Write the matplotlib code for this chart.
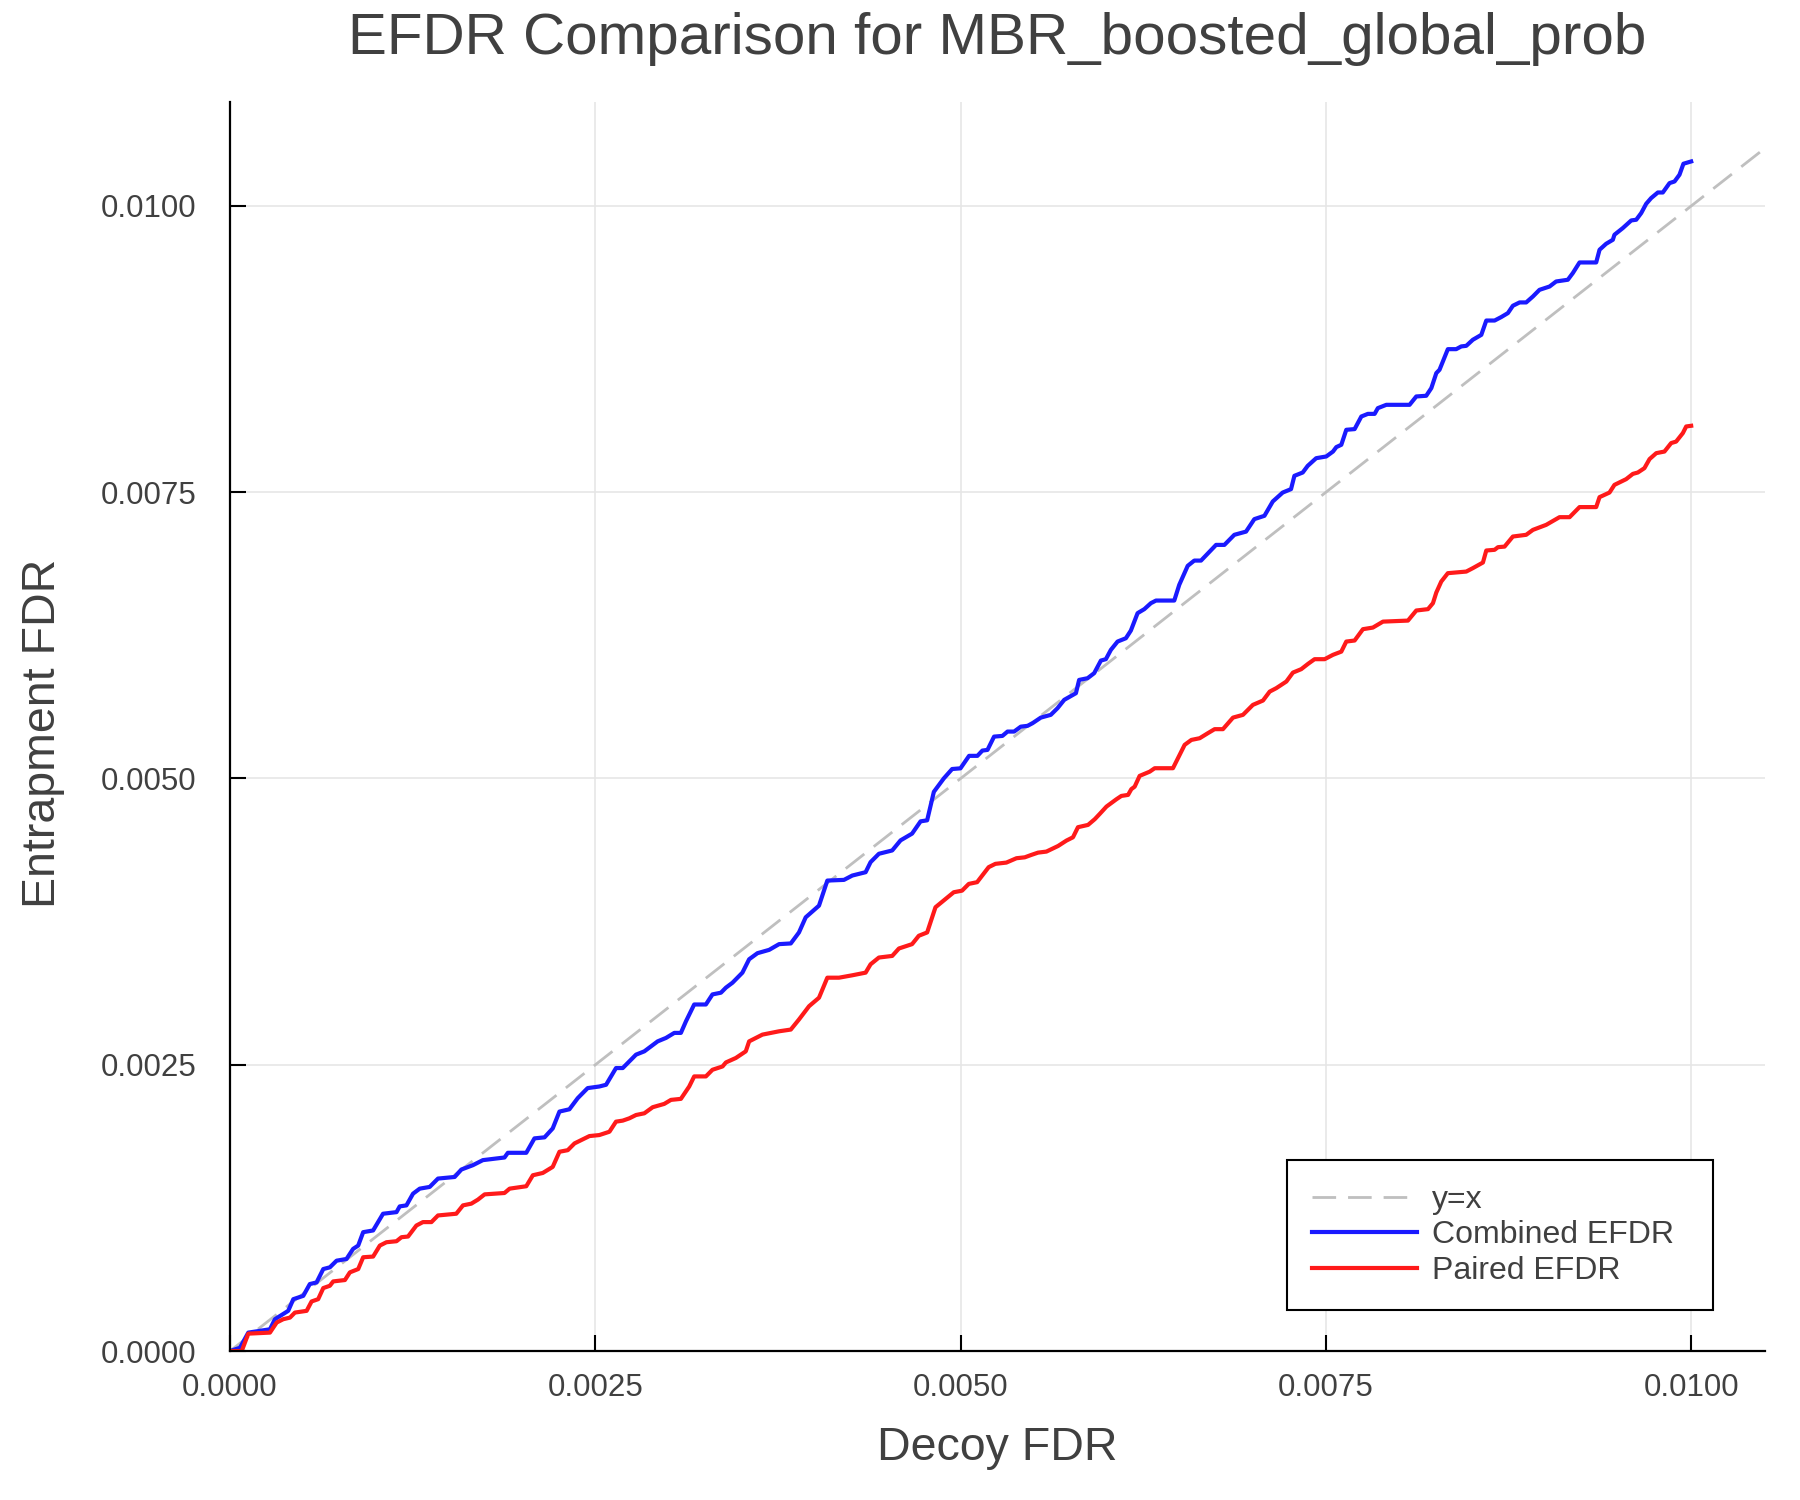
# -*- coding: utf-8 -*-
"""
EFDR comparison plot (entrapment FDR vs decoy FDR) for MBR_boosted_global_prob
"""

import numpy as np
import matplotlib
matplotlib.use("Agg")
import matplotlib.pyplot as plt

# ---------------------------------------------------------------------------
# Data (values in units of 1e-3)
# ---------------------------------------------------------------------------

combined_decoy = [
    0.000, 0.068, 0.125, 0.273, 0.307, 0.398, 0.433, 0.501, 0.546, 0.592,
    0.638, 0.683, 0.729, 0.797, 0.842, 0.877, 0.911, 0.979, 1.047, 1.139,
    1.161, 1.207, 1.252, 1.298, 1.366, 1.423, 1.537, 1.583, 1.662, 1.730,
    1.878, 1.901, 2.027, 2.083, 2.152, 2.208, 2.254, 2.322, 2.379, 2.447,
    2.527, 2.573, 2.641, 2.687, 2.721, 2.778, 2.835, 2.926, 2.983, 3.040,
    3.085, 3.120, 3.176, 3.256, 3.301, 3.359, 3.393, 3.438, 3.506, 3.552,
    3.609, 3.689, 3.757, 3.837, 3.893, 3.939, 4.030, 4.087, 4.201, 4.258,
    4.349, 4.383, 4.440, 4.531, 4.588, 4.667, 4.725, 4.770, 4.816, 4.884,
    4.941, 4.998, 5.057, 5.114, 5.148, 5.183, 5.228, 5.285, 5.320, 5.365,
    5.411, 5.457, 5.491, 5.548, 5.616, 5.662, 5.708, 5.788, 5.810, 5.868,
    5.913, 5.959, 5.993, 6.027, 6.073, 6.130, 6.164, 6.210, 6.256, 6.301,
    6.336, 6.461, 6.495, 6.553, 6.598, 6.644, 6.747, 6.804, 6.872, 6.952,
    7.009, 7.078, 7.135, 7.203, 7.260, 7.283, 7.340, 7.374, 7.432, 7.501,
    7.547, 7.570, 7.604, 7.638, 7.695, 7.741, 7.786, 7.832, 7.854, 7.912,
    8.071, 8.117, 8.185, 8.220, 8.254, 8.276, 8.333, 8.390, 8.425, 8.459,
    8.504, 8.562, 8.596, 8.653, 8.698, 8.744, 8.778, 8.824, 8.869, 8.915,
    8.960, 9.029, 9.074, 9.154, 9.188, 9.234, 9.348, 9.371, 9.416, 9.462,
    9.473, 9.530, 9.588, 9.622, 9.656, 9.690, 9.724, 9.770, 9.804, 9.850,
    9.884, 9.918, 9.945, 9.998,
]
combined_efdr = [
    0.000, 0.029, 0.161, 0.190, 0.278, 0.351, 0.453, 0.482, 0.585, 0.599,
    0.716, 0.731, 0.789, 0.804, 0.892, 0.921, 1.038, 1.053, 1.199, 1.213,
    1.263, 1.272, 1.374, 1.418, 1.433, 1.506, 1.520, 1.585, 1.623, 1.667,
    1.690, 1.731, 1.731, 1.857, 1.866, 1.944, 2.091, 2.111, 2.208, 2.296,
    2.310, 2.325, 2.471, 2.471, 2.515, 2.588, 2.617, 2.704, 2.734, 2.778,
    2.778, 2.880, 3.026, 3.026, 3.114, 3.129, 3.173, 3.216, 3.304, 3.421,
    3.474, 3.503, 3.553, 3.559, 3.655, 3.787, 3.889, 4.108, 4.114, 4.152,
    4.181, 4.269, 4.342, 4.371, 4.459, 4.518, 4.625, 4.634, 4.883, 5.000,
    5.082, 5.088, 5.197, 5.197, 5.243, 5.249, 5.365, 5.371, 5.409, 5.409,
    5.452, 5.459, 5.482, 5.531, 5.555, 5.613, 5.686, 5.744, 5.860, 5.875,
    5.919, 6.029, 6.041, 6.122, 6.195, 6.224, 6.291, 6.443, 6.478, 6.530,
    6.553, 6.553, 6.690, 6.856, 6.902, 6.902, 7.039, 7.039, 7.127, 7.155,
    7.264, 7.293, 7.418, 7.496, 7.526, 7.642, 7.671, 7.729, 7.796, 7.811,
    7.854, 7.893, 7.913, 8.044, 8.050, 8.160, 8.183, 8.183, 8.233, 8.262,
    8.262, 8.335, 8.341, 8.408, 8.539, 8.568, 8.748, 8.748, 8.772, 8.777,
    8.830, 8.873, 8.998, 8.998, 9.028, 9.063, 9.127, 9.156, 9.156, 9.208,
    9.266, 9.295, 9.339, 9.354, 9.412, 9.505, 9.505, 9.616, 9.668, 9.703,
    9.747, 9.805, 9.872, 9.878, 9.936, 10.017, 10.067, 10.116, 10.116, 10.198,
    10.212, 10.271, 10.367, 10.387,
]

paired_decoy = [
    0.000, 0.080, 0.125, 0.273, 0.319, 0.364, 0.410, 0.444, 0.524, 0.558,
    0.603, 0.638, 0.683, 0.706, 0.786, 0.820, 0.877, 0.911, 0.979, 1.025,
    1.070, 1.139, 1.173, 1.218, 1.275, 1.320, 1.378, 1.423, 1.548, 1.594,
    1.651, 1.696, 1.742, 1.878, 1.913, 2.027, 2.072, 2.140, 2.208, 2.254,
    2.311, 2.357, 2.459, 2.527, 2.596, 2.641, 2.687, 2.732, 2.778, 2.835,
    2.892, 2.971, 3.017, 3.085, 3.142, 3.176, 3.256, 3.301, 3.370, 3.393,
    3.461, 3.529, 3.552, 3.643, 3.757, 3.837, 3.893, 3.962, 4.030, 4.087,
    4.167, 4.258, 4.349, 4.383, 4.440, 4.531, 4.577, 4.667, 4.713, 4.770,
    4.827, 4.896, 4.952, 5.009, 5.055, 5.112, 5.191, 5.237, 5.312, 5.381,
    5.438, 5.483, 5.529, 5.586, 5.666, 5.723, 5.768, 5.802, 5.871, 5.917,
    5.951, 5.997, 6.065, 6.099, 6.145, 6.167, 6.190, 6.224, 6.293, 6.327,
    6.452, 6.486, 6.532, 6.578, 6.635, 6.691, 6.737, 6.794, 6.863, 6.931,
    6.999, 7.068, 7.114, 7.159, 7.228, 7.273, 7.330, 7.376, 7.421, 7.490,
    7.547, 7.604, 7.638, 7.695, 7.752, 7.820, 7.889, 8.060, 8.117, 8.197,
    8.231, 8.254, 8.288, 8.333, 8.459, 8.504, 8.573, 8.596, 8.653, 8.676,
    8.721, 8.778, 8.869, 8.915, 9.006, 9.097, 9.166, 9.234, 9.348, 9.371,
    9.439, 9.473, 9.553, 9.599, 9.633, 9.678, 9.713, 9.759, 9.815, 9.861,
    9.895, 9.941, 9.964, 9.998,
]
paired_efdr = [
    0.000, 0.000, 0.152, 0.161, 0.249, 0.278, 0.292, 0.336, 0.351, 0.433,
    0.453, 0.550, 0.570, 0.608, 0.620, 0.687, 0.716, 0.819, 0.825, 0.921,
    0.950, 0.959, 0.994, 1.000, 1.096, 1.126, 1.126, 1.184, 1.199, 1.272,
    1.287, 1.322, 1.368, 1.380, 1.418, 1.439, 1.535, 1.555, 1.608, 1.740,
    1.754, 1.813, 1.877, 1.886, 1.915, 2.003, 2.012, 2.032, 2.061, 2.076,
    2.129, 2.158, 2.193, 2.202, 2.310, 2.398, 2.398, 2.456, 2.485, 2.520,
    2.559, 2.617, 2.704, 2.763, 2.792, 2.807, 2.895, 3.011, 3.085, 3.260,
    3.260, 3.281, 3.304, 3.377, 3.436, 3.450, 3.515, 3.553, 3.626, 3.655,
    3.875, 3.947, 4.006, 4.020, 4.079, 4.094, 4.225, 4.254, 4.265, 4.303,
    4.311, 4.332, 4.352, 4.361, 4.410, 4.457, 4.486, 4.574, 4.594, 4.644,
    4.690, 4.754, 4.818, 4.847, 4.856, 4.906, 4.928, 5.022, 5.059, 5.089,
    5.089, 5.176, 5.293, 5.336, 5.351, 5.395, 5.430, 5.430, 5.531, 5.555,
    5.642, 5.680, 5.758, 5.788, 5.846, 5.924, 5.954, 6.000, 6.041, 6.041,
    6.079, 6.107, 6.195, 6.204, 6.303, 6.317, 6.369, 6.378, 6.466, 6.478,
    6.530, 6.623, 6.719, 6.792, 6.806, 6.836, 6.885, 6.990, 6.996, 7.019,
    7.024, 7.112, 7.127, 7.170, 7.214, 7.281, 7.281, 7.369, 7.369, 7.456,
    7.496, 7.563, 7.613, 7.659, 7.671, 7.709, 7.788, 7.840, 7.854, 7.928,
    7.941, 8.015, 8.073, 8.079,
]

# y = x reference line end points
diag = [0.0, 0.0105]

tick_values = [0.0, 0.0025, 0.005, 0.0075, 0.01]
tick_labels = ["0.0000", "0.0025", "0.0050", "0.0075", "0.0100"]

title = "EFDR Comparison for MBR_boosted_global_prob"

# ---------------------------------------------------------------------------
# Style
# ---------------------------------------------------------------------------

text_color = "#404040"
blue_color = (0.1, 0.1, 1.0)
red_color = (1.0, 0.1, 0.1)
diag_color = "#bfbfbf"

plt.rcParams["font.family"] = ["Liberation Sans", "DejaVu Sans"]

# ---------------------------------------------------------------------------
# Plot
# ---------------------------------------------------------------------------

scale = 1e-3
comb_x = np.array(combined_decoy) * scale
comb_y = np.array(combined_efdr) * scale
pair_x = np.array(paired_decoy) * scale
pair_y = np.array(paired_efdr) * scale

fig = plt.figure(figsize=(18, 15), dpi=100)
ax = fig.add_axes([0.1278, 0.0993, 0.8525, 0.833])

ax.plot(diag, diag, color=diag_color, linewidth=2.0, dashes=(8.5, 4.3), label="y=x")
ax.plot(comb_x, comb_y, color=blue_color, linewidth=3.0, label="Combined EFDR")
ax.plot(pair_x, pair_y, color=red_color, linewidth=3.0, label="Paired EFDR")

ax.set_xlim(0, 0.0105)
ax.set_ylim(0, 0.01091)
ax.set_xticks(tick_values)
ax.set_xticklabels(tick_labels)
ax.set_yticks(tick_values)
ax.set_yticklabels(tick_labels)

# Axes frame: only left and bottom, ticks pointing inside
for side in ["top", "right"]:
    ax.spines[side].set_visible(False)
for side in ["left", "bottom"]:
    ax.spines[side].set_linewidth(1.6)
    ax.spines[side].set_color("black")

ax.tick_params(axis="both", direction="in", length=11.3, width=1.5,
               color="black", labelcolor=text_color, labelsize=22.5)
ax.tick_params(axis="x", pad=15.9)
ax.tick_params(axis="y", pad=24)

ax.grid(True, color="#e6e6e6", linewidth=1.2)
ax.set_axisbelow(True)

ax.set_title(title, fontsize=42, color=text_color, pad=34)
ax.set_xlabel("Decoy FDR", fontsize=33.5, color=text_color)
ax.set_ylabel("Entrapment FDR", fontsize=33.5, color=text_color)
ax.xaxis.set_label_coords(0.5, -0.060)
ax.yaxis.set_label_coords(-0.1075, 0.4946)

# Legend
leg = ax.legend(loc="lower left", bbox_to_anchor=(0.6888, 0.0325, 0.2776, 0.1),
                mode="expand", borderaxespad=0, fontsize=23, frameon=True,
                fancybox=False, framealpha=1, edgecolor="black",
                handlelength=3.3, handletextpad=0.47, labelspacing=0.17,
                borderpad=0.77)
leg.get_frame().set_linewidth(1.5)
for txt in leg.get_texts():
    txt.set_color(text_color)

fig.savefig("out.png", dpi=100)
